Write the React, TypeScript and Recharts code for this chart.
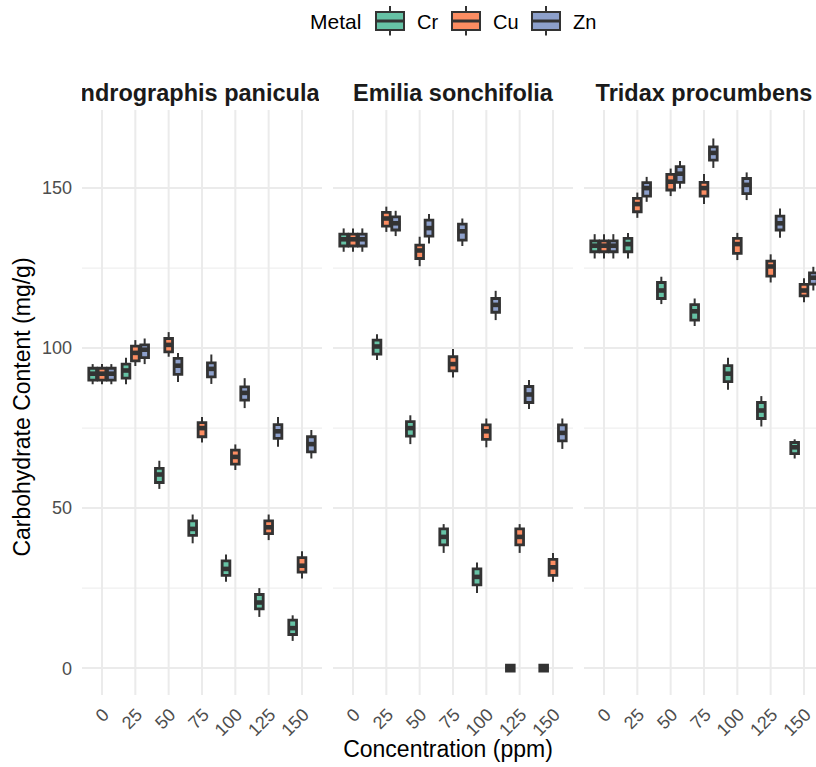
import React from 'react';
import {
  ComposedChart,
  Scatter,
  XAxis,
  YAxis,
  CartesianGrid,
  ReferenceArea,
  ReferenceLine,
} from 'recharts';

const concentrations = [0, 25, 50, 75, 100, 125, 150];
const metals = ['Cr', 'Cu', 'Zn'];
const metalColors = ['#66c2a5', '#fc8d62', '#8da0cb'];
const speciesNames = ['Andrographis paniculata', 'Emilia sonchifolia', 'Tridax procumbens'];
const yTicks = [0, 50, 100, 150];
const yMinorTicks = [25, 75, 125];

// one entry per concentration: [lower whisker, Q1, median, Q3, upper whisker]
const andrographisCr = [
  [88.7, 90, 92, 93.7, 95], [88.7, 90.6, 93, 95, 97], [56, 58, 60.5, 62.4, 64.8],
  [39, 41.5, 43.5, 46, 48], [27, 29, 31, 33.5, 35.5], [16, 18.5, 20.5, 23, 25], [8.5, 10.5, 12.5, 15, 16.5],
];
const andrographisCu = [
  [88.7, 90, 92, 93.7, 95], [94.4, 96, 98.5, 100.6, 102.5], [97.3, 98.8, 101, 103, 105],
  [70.5, 72.3, 75, 76.7, 78.5], [61.9, 63.75, 66, 68.1, 69.9], [40, 42, 44, 46, 48], [28, 30, 32, 34.5, 36.5],
];
const andrographisZn = [
  [88.7, 90, 92, 93.7, 95], [95, 97, 99.5, 101, 103], [89.4, 91.8, 94.5, 96.8, 98.5],
  [88.8, 91, 93.5, 95.4, 98], [81.25, 83.75, 86, 87.9, 90.6], [69.2, 71.8, 74, 76.1, 78.5], [65.5, 67.6, 70, 72.3, 74.4],
];
const emiliaCr = [
  [130.1, 131.9, 134, 135.6, 137.4], [96.25, 98.1, 100.5, 102.5, 104.3], [70, 72.5, 75, 77, 79],
  [36, 38.5, 41, 43.5, 45], [23.5, 26, 28.5, 31, 33], [-1, -0.9, 0, 0.9, 1], [-1, -0.9, 0, 0.9, 1],
];
const emiliaCu = [
  [130.1, 131.9, 134, 135.6, 137.4], [136.3, 138.1, 140.5, 142.4, 144.2], [125.6, 128, 130.5, 132.2, 134.8],
  [90.8, 92.9, 95, 97.3, 99.7], [69, 71.5, 74, 76, 78], [36, 38.5, 41, 43.5, 45], [27, 29, 31.5, 34, 36],
];
const emiliaZn = [
  [130.1, 131.9, 134, 135.6, 137.4], [135, 136.9, 139, 141, 142.9], [132.7, 135, 137.5, 140, 141.9],
  [131.9, 133.75, 136.5, 138.75, 140.5], [108.75, 111.2, 113.5, 115.5, 117.9], [81, 83, 85.5, 88, 90], [68.5, 71, 73.5, 76, 78],
];
const tridaxCr = [
  [128, 130.1, 132, 133.5, 135.6], [128, 130.1, 132.5, 134.3, 136], [113.75, 115.5, 118, 120.5, 122.3],
  [106.9, 108.75, 111.5, 113.6, 115.5], [87, 89.5, 92, 94.5, 97], [75.5, 78, 80.5, 83, 85], [65.5, 67, 69, 70.5, 71.5],
];
const tridaxCu = [
  [128, 130.1, 132, 133.5, 135.6], [140.7, 142.6, 145, 146.8, 148.6], [147.5, 149.4, 152, 154.3, 156.1],
  [145, 147.5, 150, 151.8, 154.4], [127.5, 129.6, 132.5, 134.3, 136], [120.5, 122.5, 125.5, 127.2, 129.3], [114.3, 116.3, 118, 119.9, 121.8],
];
const tridaxZn = [
  [128, 130.1, 132, 133.5, 135.6], [145.7, 147.5, 150, 151.7, 153.5], [149.9, 151.8, 154.5, 156.7, 158.5],
  [156.3, 158.75, 161, 162.9, 165.5], [146.25, 148.3, 151, 153, 154.9], [134.5, 136.9, 139, 141.25, 143.6], [118, 120, 122, 123.5, 125.4],
];

const panelBoxes = [
  [andrographisCr, andrographisCu, andrographisZn],
  [emiliaCr, emiliaCu, emiliaZn],
  [tridaxCr, tridaxCu, tridaxZn],
];

// layout
const FONT = '"Liberation Sans", Arial, Helvetica, sans-serif';
const H = 767;
const TOP = 110;
const X_AXIS_H = 72;
const Y_AXIS_W = 82;
const PANEL_W = 240;
const panelLeft = [82, 333, 584];
const dodge = [-7, 0, 7];
const BOX_HALF = 2.9;
const Y_DOMAIN: [number, number] = [-8.4, 174.4];
const X_DOMAIN: [number, number] = [-15, 165];
const DARK = '#333333';
const legendKeyX = [376, 452, 532];

// default tickSize (6) + tickMargin (2) already put y 8px under the plot
const ConcTick = (props: any) => {
  const { x, y, payload } = props;
  const ax = x + 8;
  const ay = y + 13;
  return (
    <text x={ax} y={ay} transform={`rotate(-45 ${ax} ${ay})`} textAnchor="end" fontSize={18} fill="#4d4d4d" fontFamily={FONT}>
      {payload.value}
    </text>
  );
};

const MedianMark = (props: any) => {
  const { cx, cy } = props;
  if (cx == null || cy == null) return null;
  return <line x1={cx - 4.6} x2={cx + 4.6} y1={cy} y2={cy} stroke={DARK} strokeWidth={4.6} />;
};

function Panel({ index }: { index: number }) {
  const first = index === 0;
  const boxes = panelBoxes[index];
  const whiskers: React.ReactNode[] = [];
  const areas: React.ReactNode[] = [];
  const seriesData = boxes.map((series, m) =>
    series.map(([lo, q1, med, q3, hi], i) => {
      const x = concentrations[i] + dodge[m];
      whiskers.push(
        <ReferenceLine key={`wl-${m}-${i}`} segment={[{ x, y: lo }, { x, y: q1 }]} stroke={DARK} strokeWidth={2} />,
        <ReferenceLine key={`wh-${m}-${i}`} segment={[{ x, y: q3 }, { x, y: hi }]} stroke={DARK} strokeWidth={2} />
      );
      areas.push(
        <ReferenceArea
          key={`b-${m}-${i}`}
          x1={x - BOX_HALF}
          x2={x + BOX_HALF}
          y1={q1}
          y2={q3}
          fill={metalColors[m]}
          fillOpacity={1}
          stroke={DARK}
          strokeWidth={2.8}
        />
      );
      return { x, med, conc: concentrations[i], metal: metals[m] };
    })
  );

  return (
    <div style={{ position: 'absolute', left: first ? 0 : panelLeft[index], top: 0 }}>
      <ComposedChart
        width={first ? Y_AXIS_W + PANEL_W : PANEL_W}
        height={H}
        margin={{ top: TOP, right: 0, bottom: 0, left: 0 }}
      >
        <CartesianGrid
          vertical={false}
          stroke="#efefef"
          strokeWidth={1.2}
          syncWithTicks
          horizontalValues={yMinorTicks}
        />
        <CartesianGrid
          stroke="#ebebeb"
          strokeWidth={2}
          syncWithTicks
          verticalValues={concentrations}
          horizontalValues={yTicks}
        />
        <XAxis
          type="number"
          dataKey="x"
          domain={X_DOMAIN}
          ticks={concentrations}
          interval={0}
          allowDataOverflow
          axisLine={false}
          tickLine={false}
          height={X_AXIS_H}
          tick={<ConcTick />}
        />
        <YAxis
          type="number"
          dataKey="med"
          domain={Y_DOMAIN}
          ticks={yTicks}
          interval={0}
          allowDataOverflow
          axisLine={false}
          tickLine={false}
          tickMargin={4}
          width={Y_AXIS_W}
          hide={!first}
          tick={{ fontSize: 18, fill: '#4d4d4d', fontFamily: FONT }}
        />
        {whiskers}
        {areas}
        {seriesData.map((d, m) => (
          <Scatter key={metals[m]} name={metals[m]} data={d} shape={(p: any) => <MedianMark {...p} />} isAnimationActive={false} />
        ))}
      </ComposedChart>
    </div>
  );
}

export default function App() {
  return (
    <div
      style={{
        position: 'absolute',
        left: 0,
        top: 0,
        width: 816,
        height: H,
        overflow: 'hidden',
        background: '#ffffff',
        fontFamily: FONT,
      }}
    >
      {[0, 1, 2].map((i) => (
        <Panel key={i} index={i} />
      ))}
      <svg width={816} height={H} style={{ position: 'absolute', left: 0, top: 0, pointerEvents: 'none' }} fontFamily={FONT}>
        <defs>
          {panelLeft.map((l, i) => (
            <clipPath id={`strip${i}`} key={i}>
              <rect x={l} y={60} width={PANEL_W - 3} height={50} />
            </clipPath>
          ))}
        </defs>
        {speciesNames.map((n, i) => (
          <text
            key={n}
            clipPath={`url(#strip${i})`}
            x={panelLeft[i] + PANEL_W / 2}
            y={100.5}
            textAnchor="middle"
            fontWeight="bold"
            fontSize={23.5}
            fill="#1a1a1a"
          >
            {n}
          </text>
        ))}

        {/* legend */}
        <text x={310} y={29} fontSize={21} fill="#000">Metal</text>
        {metals.map((m, i) => {
          const kx = legendKeyX[i];
          const cx = kx + 14;
          return (
            <g key={m}>
              <line x1={cx} x2={cx} y1={6} y2={35.5} stroke={DARK} strokeWidth={2} />
              <rect x={kx} y={12} width={28} height={18} fill={metalColors[i]} stroke={DARK} strokeWidth={2} />
              <line x1={kx} x2={kx + 28} y1={21} y2={21} stroke={DARK} strokeWidth={3} />
              <text x={kx + 41} y={29} fontSize={20} fill="#000">{m}</text>
            </g>
          );
        })}

        {/* axis titles */}
        <text x={448} y={757} textAnchor="middle" fontSize={23} fill="#000">Concentration (ppm)</text>
        <text x={30} y={407} textAnchor="middle" fontSize={23} fill="#000" transform="rotate(-90 30 407)">
          Carbohydrate Content (mg/g)
        </text>
      </svg>
    </div>
  );
}
